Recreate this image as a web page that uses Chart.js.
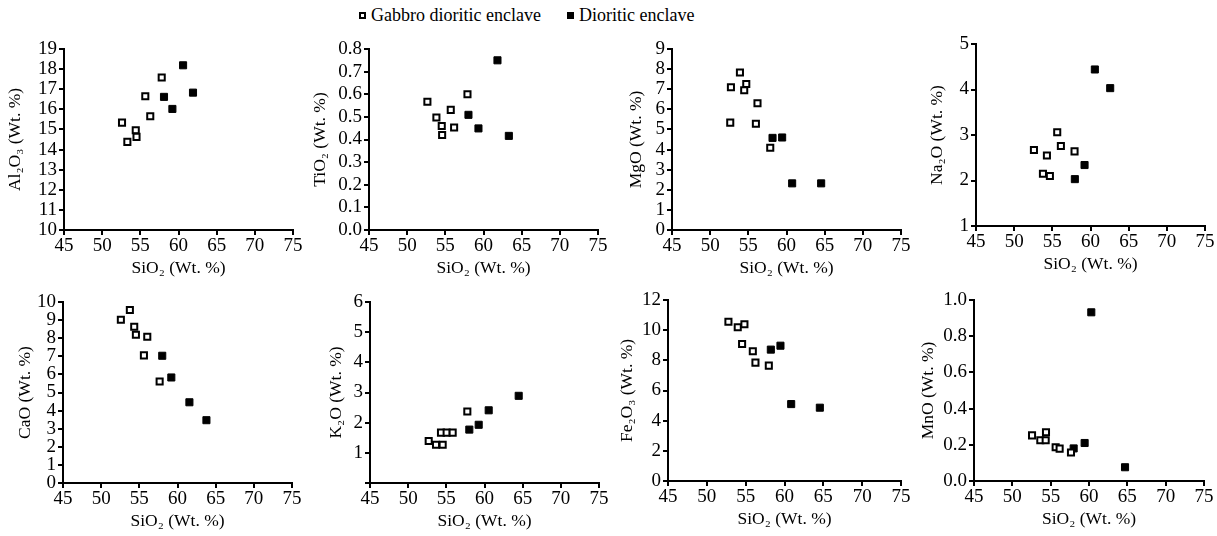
<!DOCTYPE html>
<html>
<head>
<meta charset="utf-8">
<script src="https://cdn.jsdelivr.net/npm/chart.js@4.4.1/dist/chart.umd.min.js"></script>
<style>
    html, body { margin: 0; padding: 0; background: #fff; }
    body { position: relative; width: 1217px; height: 536px; overflow: hidden; font-family: "Liberation Serif", "Times New Roman", serif; }
    canvas { position: absolute; }
    .legend { position: absolute; left: 359px; top: 4px; font-size: 18px; line-height: 22px; color: #000; white-space: nowrap; }
    .legend .sq { display: inline-block; width: 7px; height: 7px; box-sizing: border-box; border: 2px solid #000; vertical-align: 2px; margin-right: 5px; }
    .legend .sq.filled { background: #000; }
    .legend .item + .item { margin-left: 26px; }
</style>
</head>
<body>
<div class="legend">
    <span class="item"><span class="sq"></span>Gabbro dioritic enclave</span><span class="item"><span class="sq filled"></span>Dioritic enclave</span>
</div>

<script>
/* ==================== Data (SiO2, oxide) ==================== */
const seriesNames = ['Gabbro dioritic enclave', 'Dioritic enclave'];
const siO2Range = [45, 75, 5];

const al2o3Gabbro = [[52.6, 15.34], [53.3, 14.38], [54.4, 14.96], [54.5, 14.63], [55.65, 16.65], [56.3, 15.66], [57.8, 17.58]];
const al2o3Dioritic = [[58.1, 16.62], [59.2, 16.02], [60.6, 18.19], [61.9, 16.83]];

const tio2Gabbro = [[52.65, 0.567], [53.83, 0.497], [54.53, 0.46], [54.58, 0.42], [55.71, 0.531], [56.15, 0.453], [57.9, 0.60]];
const tio2Dioritic = [[58.03, 0.509], [59.34, 0.449], [61.83, 0.75], [63.32, 0.416]];

const mgoGabbro = [[52.72, 7.10], [52.63, 5.34], [53.9, 7.83], [54.46, 6.95], [54.73, 7.26], [56.2, 6.30], [55.99, 5.28], [57.87, 4.09]];
const mgoDioritic = [[58.17, 4.58], [59.43, 4.60], [60.74, 2.32], [64.54, 2.32]];

const na2oGabbro = [[52.59, 2.67], [53.77, 2.15], [54.29, 2.55], [54.68, 2.10], [55.64, 3.06], [56.12, 2.76], [57.91, 2.64]];
const na2oDioritic = [[57.95, 2.03], [59.22, 2.34], [60.57, 4.44], [62.58, 4.03]];

const caoGabbro = [[52.58, 9.02], [53.76, 9.56], [54.33, 8.63], [54.55, 8.19], [55.6, 7.05], [56.04, 8.08], [57.66, 5.61]];
const caoDioritic = [[58.0, 7.03], [59.19, 5.83], [61.56, 4.46], [63.79, 3.47]];

const k2oGabbro = [[52.69, 1.39], [53.65, 1.27], [54.3, 1.67], [54.52, 1.27], [55.04, 1.67], [55.83, 1.67], [57.75, 2.37]];
const k2oDioritic = [[58.01, 1.77], [59.24, 1.93], [60.55, 2.41], [64.48, 2.89]];

const fe2o3Gabbro = [[52.78, 10.56], [53.98, 10.19], [54.54, 9.08], [54.84, 10.39], [55.92, 8.60], [56.26, 7.85], [57.98, 7.65]];
const fe2o3Dioritic = [[58.24, 8.71], [59.48, 8.97], [60.86, 5.10], [64.55, 4.86]];

const mnoGabbro = [[52.57, 0.252], [53.65, 0.225], [54.35, 0.225], [54.39, 0.269], [55.65, 0.186], [56.17, 0.179], [57.65, 0.157]];
const mnoDioritic = [[58.0, 0.18], [59.43, 0.21], [60.3, 0.932], [64.7, 0.076]];

// y axis: [min, max, step, decimals, hideMinLabel]
const yAxes = {
    al2o3: [10, 19, 1, 0, false],
    tio2: [0, 0.8, 0.1, 1, false],
    mgo: [0, 9, 1, 0, false],
    na2o: [1, 5, 1, 0, false],
    cao: [0, 10, 1, 0, false],
    k2o: [0, 6, 1, 0, true],
    fe2o3: [0, 12, 2, 0, false],
    mno: [0, 1, 0.2, 1, false]
};

const yTitles = {
    al2o3: 'Al₂O₃ (Wt. %)', tio2: 'TiO₂ (Wt. %)', mgo: 'MgO (Wt. %)', na2o: 'Na₂O (Wt. %)',
    cao: 'CaO (Wt. %)', k2o: 'K₂O (Wt. %)', fe2o3: 'Fe₂O₃ (Wt. %)', mno: 'MnO (Wt. %)'
};
const xTitle = 'SiO₂ (Wt. %)';

/* ==================== Layout (plot area boxes) ==================== */
const PANELS = [
    { key: 'al2o3', gabbro: al2o3Gabbro, dioritic: al2o3Dioritic, box: [64, 49, 293, 230], dist: 49 },
    { key: 'tio2', gabbro: tio2Gabbro, dioritic: tio2Dioritic, box: [369, 49, 598, 230], dist: 49 },
    { key: 'mgo', gabbro: mgoGabbro, dioritic: mgoDioritic, box: [672, 49, 901, 230], dist: 36 },
    { key: 'na2o', gabbro: na2oGabbro, dioritic: na2oDioritic, box: [976, 44, 1205, 226], dist: 39 },
    { key: 'cao', gabbro: caoGabbro, dioritic: caoDioritic, box: [63, 302, 292, 483], dist: 38 },
    { key: 'k2o', gabbro: k2oGabbro, dioritic: k2oDioritic, box: [370, 302, 599, 483], dist: 34 },
    { key: 'fe2o3', gabbro: fe2o3Gabbro, dioritic: fe2o3Dioritic, box: [668, 300, 901, 481], dist: 41 },
    { key: 'mno', gabbro: mnoGabbro, dioritic: mnoDioritic, box: [974, 300, 1204, 481], dist: 46 }
];

const Y_W = 70;   // fixed y-axis width
const X_H = 50;   // fixed x-axis height
const PAD_T = 14;
const PAD_R = 16;
const FONT = '"Liberation Serif", "Times New Roman", serif';
const TITLE_LH = 17.5 * 1.2;

function toPoints(pairs) {
    return pairs.map(p => ({ x: p[0], y: p[1] }));
}

function buildPanel(panel) {
    const [l, t, r, b] = panel.box;
    const canvas = document.createElement('canvas');
    const w = (r - l) + Y_W + PAD_R;
    const h = (b - t) + PAD_T + X_H;
    canvas.width = w;
    canvas.height = h;
    canvas.style.left = (l - Y_W) + 'px';
    canvas.style.top = (t - PAD_T) + 'px';
    canvas.style.width = w + 'px';
    canvas.style.height = h + 'px';
    document.body.appendChild(canvas);

    const [yMin, yMax, yStep, yDec, hideMin] = yAxes[panel.key];
    const axisGrid = { display: true, drawOnChartArea: false, drawTicks: true, tickLength: 5, color: '#000', lineWidth: 2 };
    const axisBorder = { display: true, color: '#000', width: 2 };

    new Chart(canvas, {
        type: 'scatter',
        data: {
            datasets: [{
                label: seriesNames[0],
                data: toPoints(panel.gabbro),
                pointStyle: 'rect',
                pointRadius: 4.3,
                pointBorderWidth: 2,
                pointBackgroundColor: '#fff',
                pointBorderColor: '#000'
            }, {
                label: seriesNames[1],
                data: toPoints(panel.dioritic),
                pointStyle: 'rect',
                pointRadius: 5,
                pointBorderWidth: 1,
                pointBackgroundColor: '#000',
                pointBorderColor: '#000'
            }]
        },
        options: {
            responsive: false,
            animation: false,
            devicePixelRatio: 1,
            layout: { padding: { top: PAD_T, right: PAD_R, left: 0, bottom: 0 } },
            plugins: { legend: { display: false }, tooltip: { enabled: false } },
            scales: {
                x: {
                    type: 'linear',
                    min: siO2Range[0],
                    max: siO2Range[1],
                    afterFit: s => { s.height = X_H; },
                    grid: axisGrid,
                    border: axisBorder,
                    ticks: { stepSize: siO2Range[2], autoSkip: false, maxRotation: 0, padding: 0, color: '#000', font: { family: FONT, size: 19 } },
                    title: {
                        display: true,
                        text: xTitle,
                        color: '#000',
                        font: { family: FONT, size: 17.5, lineHeight: 1.2 },
                        padding: { top: 0, bottom: X_H - 38 - TITLE_LH / 2 }
                    }
                },
                y: {
                    type: 'linear',
                    min: yMin,
                    max: yMax,
                    afterFit: s => { s.width = Y_W; },
                    grid: axisGrid,
                    border: axisBorder,
                    ticks: {
                        stepSize: yStep,
                        autoSkip: false,
                        padding: 2,
                        color: '#000',
                        font: { family: FONT, size: 19 },
                        callback: v => (hideMin && v === yMin) ? '' : Number(v).toFixed(yDec)
                    },
                    title: {
                        display: true,
                        text: yTitles[panel.key],
                        color: '#000',
                        font: { family: FONT, size: 17.5, lineHeight: 1.2 },
                        padding: { top: Y_W - panel.dist - TITLE_LH / 2, bottom: 0 }
                    }
                }
            }
        }
    });
}

PANELS.forEach(buildPanel);
</script>
</body>
</html>
